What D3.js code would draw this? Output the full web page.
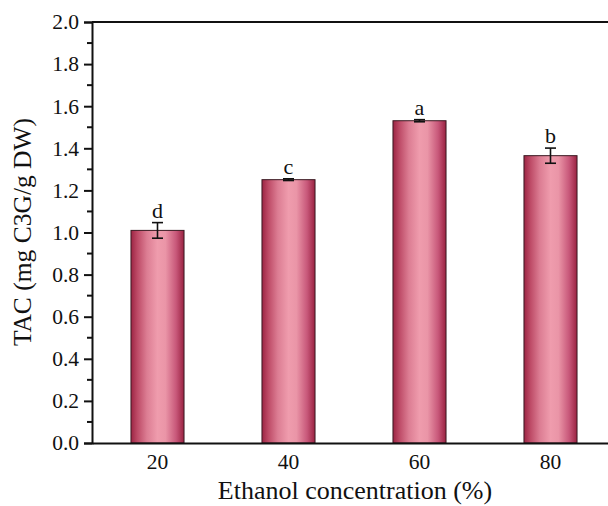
<!DOCTYPE html>
<html>
<head>
<meta charset="utf-8">
<script src="https://cdn.jsdelivr.net/npm/d3@7"></script>
<style>
  html, body { margin: 0; padding: 0; background: #fff; }
  svg { display: block; }
  svg text { font-family: "Liberation Serif", "Times New Roman", serif; fill: #111; }
</style>
</head>
<body>
<svg id="chart" width="608" height="506"></svg>
<script>
// Total anthocyanin content by ethanol concentration
const categories = ["20", "40", "60", "80"];
const values = [1.01, 1.251, 1.531, 1.365];
const errors = [0.037, 0.004, 0.005, 0.036];
const letters = ["d", "c", "a", "b"];
const yTicks = [0.0, 0.2, 0.4, 0.6, 0.8, 1.0, 1.2, 1.4, 1.6, 1.8, 2.0];

const serif = "'Liberation Serif', 'Times New Roman', serif";
const svg = d3.select("#chart");
const margin = { left: 92, top: 22, right: 616, bottom: 443 };

const x = d3.scaleBand()
  .domain(categories)
  .range([margin.left, margin.right])
  .paddingInner(0.595)
  .paddingOuter(0.2975);

const y = d3.scaleLinear().domain([0, 2]).range([margin.bottom, margin.top]);

// Horizontal shading for cylinder-like bars
const defs = svg.append("defs");
const grad = defs.append("linearGradient").attr("id", "barGrad")
  .attr("x1", "0%").attr("x2", "100%").attr("y1", "0%").attr("y2", "0%");
[
  [0, "#9c2443"], [0.12, "#bd4a66"], [0.3, "#dc7d93"], [0.5, "#ef9cad"],
  [0.65, "#ea95a7"], [0.85, "#c8587a"], [1, "#9a2241"]
].forEach(([o, c]) => grad.append("stop").attr("offset", o).attr("stop-color", c));

// Bars
svg.append("g").selectAll("rect")
  .data(categories)
  .join("rect")
  .attr("x", d => x(d))
  .attr("width", x.bandwidth())
  .attr("y", (d, i) => y(values[i]))
  .attr("height", (d, i) => y(0) - y(values[i]))
  .attr("fill", "url(#barGrad)")
  .attr("stroke", "#3a1a22")
  .attr("stroke-width", 1);

// Error bars
const eb = svg.append("g").attr("stroke", "#111").attr("stroke-width", 1.6);
categories.forEach((c, i) => {
  const cx = x(c) + x.bandwidth() / 2;
  const y1 = y(values[i] + errors[i]);
  const y2 = y(values[i] - errors[i]);
  eb.append("line").attr("x1", cx).attr("x2", cx).attr("y1", y1).attr("y2", y2);
  eb.append("line").attr("x1", cx - 5.5).attr("x2", cx + 5.5).attr("y1", y1).attr("y2", y1);
  eb.append("line").attr("x1", cx - 5.5).attr("x2", cx + 5.5).attr("y1", y2).attr("y2", y2);
});

// Significance letters
svg.append("g").selectAll("text")
  .data(categories)
  .join("text")
  .attr("x", d => x(d) + x.bandwidth() / 2)
  .attr("y", (d, i) => y(values[i] + errors[i]) - 5)
  .attr("text-anchor", "middle")
  .style("font-family", serif)
  .style("font-size", "22px")
  .text((d, i) => letters[i]);

// Frame: top and right lines
svg.append("line")
  .attr("x1", margin.left).attr("x2", margin.right)
  .attr("y1", margin.top).attr("y2", margin.top)
  .attr("stroke", "#111").attr("stroke-width", 2);
svg.append("line")
  .attr("x1", margin.right).attr("x2", margin.right)
  .attr("y1", margin.top).attr("y2", margin.bottom)
  .attr("stroke", "#111").attr("stroke-width", 2);

// Y axis with minor ticks
const yAxis = svg.append("g").attr("transform", `translate(${margin.left},0)`)
  .call(d3.axisLeft(y).tickValues(yTicks).tickFormat(d3.format(".1f")).tickSize(8).tickPadding(5));
yAxis.select(".domain").attr("stroke", "#111").attr("stroke-width", 2);
yAxis.selectAll(".tick line").attr("stroke", "#111").attr("stroke-width", 2);
yAxis.selectAll(".tick text")
  .style("font-family", serif).style("font-size", "21.5px").attr("fill", "#111");
const minor = d3.range(0.1, 2.0, 0.2);
svg.append("g").selectAll("line").data(minor).join("line")
  .attr("x1", margin.left - 5).attr("x2", margin.left)
  .attr("y1", d => y(d)).attr("y2", d => y(d))
  .attr("stroke", "#111").attr("stroke-width", 2);

// X axis
const xAxis = svg.append("g").attr("transform", `translate(0,${margin.bottom})`)
  .call(d3.axisBottom(x).tickSize(0).tickPadding(11));
xAxis.select(".domain").attr("stroke", "#111").attr("stroke-width", 2);
xAxis.selectAll(".tick text")
  .style("font-family", serif).style("font-size", "21.5px").attr("fill", "#111");

// Axis titles
svg.append("text")
  .attr("x", 355).attr("y", 499)
  .attr("text-anchor", "middle")
  .style("font-family", serif).style("font-size", "26px")
  .text("Ethanol concentration (%)");
svg.append("text")
  .attr("transform", "translate(31,232) rotate(-90)")
  .attr("text-anchor", "middle")
  .style("font-family", serif).style("font-size", "25.5px")
  .text("TAC (mg C3G/g DW)");
</script>
</body>
</html>
